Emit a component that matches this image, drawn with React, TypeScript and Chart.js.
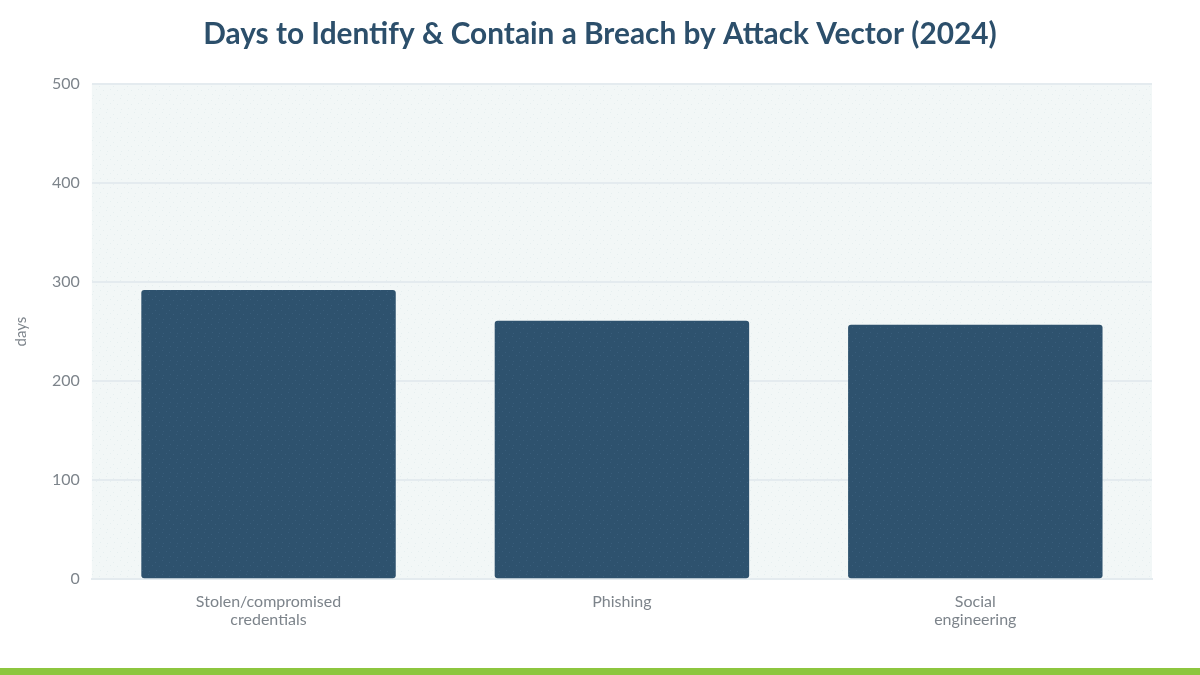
import { useEffect, useRef } from "react";
import { Chart, registerables, type ChartOptions, type Plugin } from "chart.js";

Chart.register(...registerables);

const title = "Days to Identify & Contain a Breach by Attack Vector (2024)";
const categories: (string | string[])[] = [["Stolen/compromised", "credentials"], "Phishing", ["Social", "engineering"]];
const days = [292, 261, 257];
const yTicks = [0, 100, 200, 300, 400, 500];

// small dotted tile used for the plot background and the bars
function dotPattern(ctx: CanvasRenderingContext2D, base: string, dot: string) {
  const tile = document.createElement("canvas");
  tile.width = 14;
  tile.height = 14;
  const t = tile.getContext("2d")!;
  t.fillStyle = base;
  t.fillRect(0, 0, 14, 14);
  t.fillStyle = dot;
  [[1, 2], [8, 0], [5, 6], [12, 5], [2, 10], [9, 11]].forEach(([x, y]) => t.fillRect(x, y, 1, 1));
  return ctx.createPattern(tile, "repeat")!;
}

const decorations: Plugin<"bar"> = {
  id: "decorations",
  beforeDraw(chart) {
    const { ctx, chartArea, width, height } = chart;
    ctx.save();
    ctx.fillStyle = dotPattern(ctx, "#f2f7f7", "#e6eff0");
    ctx.fillRect(chartArea.left, chartArea.top, chartArea.right - chartArea.left, chartArea.bottom - chartArea.top);
    ctx.fillStyle = "#2c4f6b";
    ctx.font = "bold 29.8px Lato";
    ctx.textAlign = "center";
    ctx.textBaseline = "middle";
    ctx.fillText(title, width / 2, 34);
    ctx.fillStyle = "#8dc63f";
    ctx.fillRect(0, height - 7, width, 7);
    ctx.restore();
  }
};

export default function App() {
  const canvasRef = useRef<HTMLCanvasElement | null>(null);
  const chartRef = useRef<Chart<"bar"> | null>(null);

  useEffect(() => {
    if (!canvasRef.current) return;
    chartRef.current?.destroy();
    const ctx = canvasRef.current.getContext("2d")!;

    const tickFont = { family: "Lato", size: 16, lineHeight: 1.15 };
    const options: ChartOptions<"bar"> = {
      responsive: false,
      animation: false,
      layout: { padding: { left: 8, right: 48, top: 84, bottom: 33 } },
      plugins: {
        legend: { display: false },
        tooltip: { enabled: false },
        title: { display: false }
      },
      scales: {
        x: {
          grid: { display: false, drawTicks: false },
          border: { display: true, color: "#e4ebef", width: 2 },
          ticks: { color: "#7d848b", font: tickFont, padding: 13, maxRotation: 0 }
        },
        y: {
          min: 0,
          max: 500,
          afterBuildTicks(axis) {
            axis.ticks = yTicks.map((v) => ({ value: v }));
          },
          grid: { color: "#e4ebef", lineWidth: 2, drawTicks: false },
          border: { display: false },
          ticks: { color: "#7d848b", font: tickFont, padding: 12 },
          title: { display: true, text: "days", color: "#7d848b", font: { family: "Lato", size: 15 }, padding: { bottom: 10 } }
        }
      }
    };

    chartRef.current = new Chart(canvasRef.current, {
      type: "bar",
      data: {
        labels: categories,
        datasets: [
          {
            label: "days",
            data: days,
            backgroundColor: dotPattern(ctx, "#2e526e", "#395d7b"),
            borderRadius: 3,
            borderSkipped: false,
            barPercentage: 0.72,
            categoryPercentage: 1
          }
        ]
      },
      options,
      plugins: [decorations]
    });

    return () => {
      chartRef.current?.destroy();
    };
  }, []);

  return (
    <div style={{ position: "fixed", left: 0, top: 0, width: 1200, height: 675, background: "#fff" }}>
      <canvas ref={canvasRef} width={1200} height={675} style={{ width: 1200, height: 675 }} />
    </div>
  );
}
